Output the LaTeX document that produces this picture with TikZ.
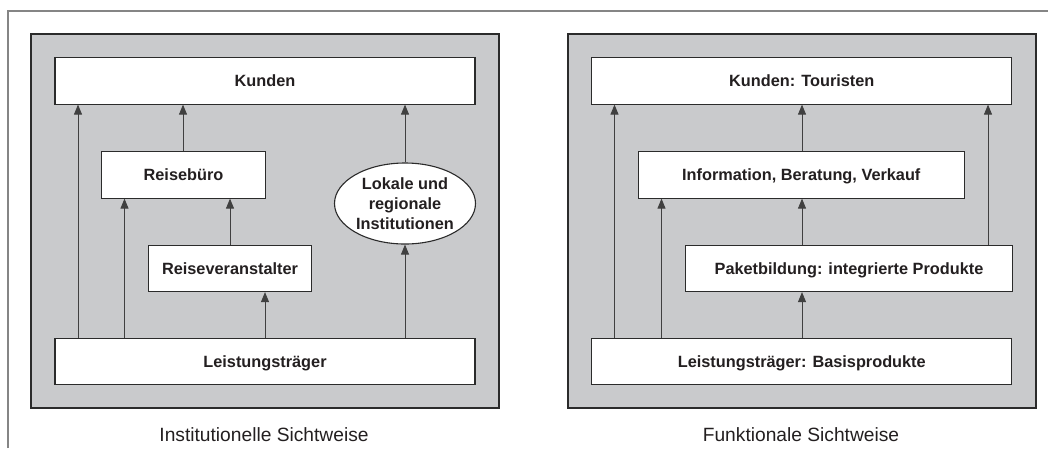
\documentclass[tikz,border=0pt]{standalone}
\usepackage{fontspec}
\setmainfont{Liberation Sans}
\usetikzlibrary{arrows.meta,shapes.geometric}

\definecolor{panelfill}{HTML}{C9CACC}
\definecolor{edge}{HTML}{2B2B2B}
\definecolor{framegray}{HTML}{858585}
\definecolor{ink}{HTML}{231F20}

\tikzset{
  panel/.style={draw=edge, line width=1.1pt, fill=panelfill},
  box/.style={draw=edge, line width=1.1pt, fill=white, inner sep=0pt,
    minimum height=46.5pt, text=ink,
    font=\fontsize{16.3}{20}\selectfont\bfseries,
    text height=11.7pt, text depth=0pt},
  oval/.style={ellipse, draw=edge, line width=1.1pt, fill=white, inner sep=0pt,
    minimum width=141pt, minimum height=81pt, align=center, text=ink,
    font=\fontsize{16.3}{20}\selectfont\bfseries},
  arr/.style={draw=edge!90, line width=0.9pt,
    -{Triangle[length=10pt,width=8pt]}},
  caption/.style={text=ink, font=\fontsize{19.2}{23}\selectfont, inner sep=0pt}
}

\begin{document}
\begin{tikzpicture}[x=1pt, y=-1pt]
\useasboundingbox (0,0) rectangle (1048,448);

% frame lines along the top and left edge
\draw[framegray, line width=1.2pt] (8,448) -- (8,11) -- (1048,11);

% grey panels
\draw[panel] (31,34) rectangle (499,408);
\draw[panel] (568,34) rectangle (1036,408);

% left panel: institutional view
\node[box, minimum width=420pt]   (K1) at (265,80.8)   {Kunden};
\node[box, minimum width=163.5pt] (RB) at (183.5,174.8) {Reisebüro};
\node[box, minimum width=163.5pt] (RV) at (230,268.3)  {Reiseveranstalter};
\node[box, minimum width=420pt]   (L1) at (265,361.5)  {Leistungsträger};
\node[oval] (LR) at (405,203.5) {Lokale und\\regionale\\Institutionen};

\coordinate (xa) at (78,0);
\coordinate (xb) at (124.5,0);
\coordinate (xc) at (265,0);
\coordinate (xd) at (230,0);
\coordinate (xe) at (183,0);

\draw[arr] (L1.north -| xa) -- (K1.south -| xa);
\draw[arr] (L1.north -| xb) -- (RB.south -| xb);
\draw[arr] (L1.north -| xc) -- (RV.south -| xc);
\draw[arr] (L1.north -| LR.south) -- (LR.south);
\draw[arr] (RV.north -| xd) -- (RB.south -| xd);
\draw[arr] (RB.north -| xe) -- (K1.south -| xe);
\draw[arr] (LR.north) -- (K1.south -| LR.north);

% right panel: functional view
\node[box, minimum width=420pt] (K2) at (801.8,80.8)  {Kunden: Touristen};
\node[box, minimum width=326pt] (IB) at (801.3,174.8) {Information, Beratung, Verkauf};
\node[box, minimum width=326.5pt] (PB) at (849,268.3) {Paketbildung: integrierte Produkte};
\node[box, minimum width=420pt] (L2) at (801.8,361.5) {Leistungsträger: Basisprodukte};

\coordinate (ya) at (614.5,0);
\coordinate (yb) at (661.5,0);
\coordinate (yc) at (802,0);
\coordinate (yd) at (988,0);

\draw[arr] (L2.north -| ya) -- (K2.south -| ya);
\draw[arr] (L2.north -| yb) -- (IB.south -| yb);
\draw[arr] (L2.north -| yc) -- (PB.south -| yc);
\draw[arr] (PB.north -| yc) -- (IB.south -| yc);
\draw[arr] (IB.north -| yc) -- (K2.south -| yc);
\draw[arr] (PB.north -| yd) -- (K2.south -| yd);

% captions
\node[caption] (C1) at (264,435) {Institutionelle Sichtweise};
\node[caption] (C2) at (801,435) {Funktionale Sichtweise};
\end{tikzpicture}
\end{document}
